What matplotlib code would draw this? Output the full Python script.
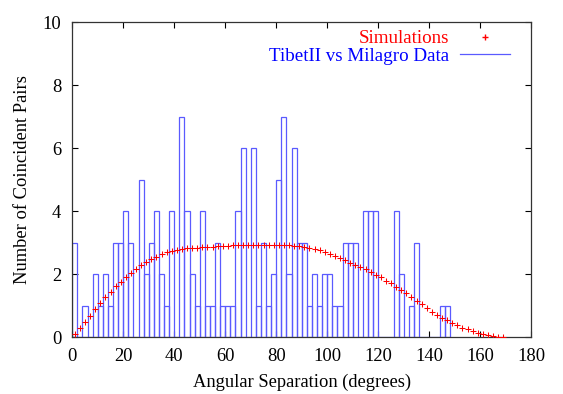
import numpy as np
import matplotlib
matplotlib.use("Agg")
import matplotlib.pyplot as plt

# Histogram: 2-degree bins starting at 0 deg
bin_edges_start = list(range(0, 148, 2))
counts = [3, 0, 1, 0, 2, 1, 2, 1, 3, 3,
          4, 3, 0, 5, 2, 3, 4, 2, 1, 4,
          0, 7, 4, 2, 1, 4, 1, 1, 3, 1,
          1, 1, 4, 6, 0, 6, 1, 3, 1, 2,
          5, 7, 2, 6, 3, 3, 1, 2, 1, 2,
          2, 1, 1, 3, 3, 3, 0, 4, 4, 4,
          0, 0, 0, 4, 2, 0, 1, 3, 0, 0,
          0, 0, 1, 1]

# Simulations: points at odd degrees
sim_x = list(range(1, 170, 2))
sim_y = [0.10, 0.29, 0.50, 0.69, 0.89, 1.08, 1.27, 1.44, 1.62, 1.77,
         1.90, 2.03, 2.16, 2.28, 2.38, 2.49, 2.56, 2.63, 2.70, 2.75,
         2.78, 2.81, 2.83, 2.84, 2.85, 2.86, 2.87, 2.88, 2.90, 2.91,
         2.91, 2.92, 2.92, 2.92, 2.92, 2.93, 2.93, 2.93, 2.94, 2.94,
         2.94, 2.93, 2.92, 2.91, 2.90, 2.88, 2.85, 2.81, 2.77, 2.72,
         2.66, 2.59, 2.52, 2.44, 2.37, 2.30, 2.23, 2.16, 2.07, 1.99,
         1.90, 1.80, 1.71, 1.61, 1.50, 1.40, 1.28, 1.16, 1.05, 0.92,
         0.81, 0.71, 0.62, 0.54, 0.46, 0.38, 0.31, 0.25, 0.20, 0.15,
         0.11, 0.06, 0.03, 0.01, 0.00]

x_ticks = list(range(0, 181, 20))
y_ticks = list(range(0, 11, 2))

plt.rcParams['font.family'] = ['Liberation Serif', 'DejaVu Serif']
FS = 13.3

fig = plt.figure(figsize=(5.63, 3.94), dpi=100)
ax = fig.add_axes([0.1284, 0.1439, 0.8153, 0.7995])

ax.plot(sim_x, sim_y, linestyle='none', marker='+', color='red',
        markeredgecolor='red', markersize=4.4, markeredgewidth=0.75,
        label='Simulations', zorder=3)
ax.bar(bin_edges_start, counts, width=2, align='edge', fill=False,
       edgecolor='#5a5aff', linewidth=0.9, zorder=2)
ax.plot([], [], color='#5a5aff', linewidth=0.9, label='TibetII vs Milagro Data')

ax.set_xlim(0, 180)
ax.set_ylim(0, 10)
ax.set_xticks(x_ticks)
ax.set_yticks(y_ticks)
ax.tick_params(direction='in', top=True, right=True, length=4.5, width=0.8,
               labelsize=FS)
ax.tick_params(axis='x', pad=8)
ax.tick_params(axis='y', pad=8)
for s in ax.spines.values():
    s.set_color('#333333')
    s.set_linewidth(0.9)

ax.set_xlabel('Angular Separation (degrees)', fontsize=FS, labelpad=6)
ax.set_ylabel('Number of Coincident Pairs', fontsize=FS, labelpad=8)

leg = ax.legend(loc='upper right', bbox_to_anchor=(0.9535, 0.975), frameon=False,
                markerfirst=False, handlelength=2.6, handletextpad=0.6,
                labelspacing=0.0, borderaxespad=0, borderpad=0, fontsize=13.7)
leg.get_texts()[0].set_color('red')
leg.get_texts()[1].set_color('blue')
h0 = leg.legend_handles[0]
h0.set_color('red')
h0.set_markeredgecolor('red')
h0.set_markersize(5)
h0.set_markeredgewidth(1.0)

fig.savefig('out.png', dpi=100)
